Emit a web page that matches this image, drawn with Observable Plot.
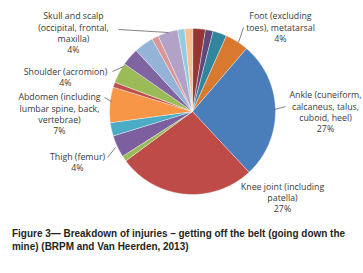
<!DOCTYPE html>
<html><head><meta charset="utf-8">
<script src="https://cdn.jsdelivr.net/npm/d3@7"></script>
<script src="https://cdn.jsdelivr.net/npm/@observablehq/plot@0.6"></script>
<style>
body{margin:0;background:#fff;width:363px;height:273px;overflow:hidden;position:relative}
#chart{position:absolute;left:0;top:0}
#cap{position:absolute;left:12px;top:227px;white-space:nowrap;font-family:"Liberation Sans",Arial,sans-serif;font-weight:bold;font-size:11px;line-height:13px;color:#231f20;transform-origin:0 0}
#cap span{display:inline-block}
</style></head><body>
<div id="chart"></div>
<div id="cap"><span id="l1">Figure 3— Breakdown of injuries – getting off the belt (going down the</span><br><span>mine) (BRPM and Van Heerden, 2013)</span></div>
<script>
// ---- data (clockwise from 12 o'clock) ----
const categories = [
  "Unlabelled 1", "Unlabelled 2", "Unlabelled 3",
  "Foot (excluding toes), metatarsal",
  "Ankle (cuneiform, calcaneus, talus, cuboid, heel)",
  "Knee joint (including patella)",
  "Unlabelled 4",
  "Thigh (femur)",
  "Unlabelled 5",
  "Abdomen (including lumbar spine, back, vertebrae)",
  "Unlabelled 6",
  "Shoulder (acromion)",
  "Unlabelled 7", "Unlabelled 8", "Unlabelled 9",
  "Skull and scalp (occipital, frontal, maxilla)",
  "Unlabelled 10", "Unlabelled 11"
];
const shares = [2.5, 1.5, 2.7, 4.6, 26.8, 26.8, 1.1, 4.3, 2.6, 6.9, 1.0, 4.0, 3.4, 3.8, 1.3, 3.9, 1.4, 1.5];
const sliceColors = ["#953735", "#5f497a", "#31859c", "#d9782f", "#4a7ebb", "#be4b48", "#9bbb59", "#7d5fa0", "#4bacc6", "#f79646", "#c0504d", "#9bbb59", "#8064a2", "#95b3d7", "#d99694", "#b3a2c7", "#93cddd", "#fac090"];
const labelTexts = {
  "Foot (excluding toes), metatarsal": "Foot (excluding\ntoes), metatarsal\n4%",
  "Ankle (cuneiform, calcaneus, talus, cuboid, heel)": "Ankle (cuneiform,\ncalcaneus, talus,\ncuboid, heel)\n27%",
  "Knee joint (including patella)": "Knee joint (including\npatella)\n27%",
  "Thigh (femur)": "Thigh (femur)\n4%",
  "Abdomen (including lumbar spine, back, vertebrae)": "Abdomen (including\nlumbar spine, back,\nvertebrae)\n7%",
  "Shoulder (acromion)": "Shoulder (acromion)\n4%",
  "Skull and scalp (occipital, frontal, maxilla)": "Skull and scalp\n(occipital, frontal,\nmaxilla)\n4%"
};

// ---- layout (pixels) ----
const W = 363, H = 222;
const cx = 192, cy = 111, R = 83;
const labelPos = {
  "Foot (excluding toes), metatarsal": [280, 26.5],
  "Ankle (cuneiform, calcaneus, talus, cuboid, heel)": [325, 111],
  "Knee joint (including patella)": [282, 197],
  "Thigh (femur)": [77, 161],
  "Abdomen (including lumbar spine, back, vertebrae)": [59, 113],
  "Shoulder (acromion)": [65, 76],
  "Skull and scalp (occipital, frontal, maxilla)": [73, 32]
};
const leaders = [
  {x1: 118, y1: 29, x2: 168, y2: 32},
  {x1: 112, y1: 71, x2: 123, y2: 66},
  {x1: 104, y1: 97, x2: 111, y2: 101},
  {x1: 107, y1: 157, x2: 115, y2: 147},
  {x1: 243, y1: 27, x2: 238, y2: 42},
  {x1: 285, y1: 106, x2: 274, y2: 109}
];

const rows = categories.map((c, i) => ({key: c, value: shares[i], color: sliceColors[i]}));
const arcs = d3.pie().sort(null).value(d => d.value)(rows);
const pts = [];
for (const a of arcs) {
  pts.push({key: a.data.key, color: a.data.color, x: cx, y: cy});
  const n = Math.max(2, Math.ceil((a.endAngle - a.startAngle) / (Math.PI / 360)));
  for (let k = 0; k <= n; k++) {
    const t = a.startAngle + (a.endAngle - a.startAngle) * k / n;
    pts.push({key: a.data.key, color: a.data.color, x: cx + R * Math.sin(t), y: cy - R * Math.cos(t)});
  }
}
const labels = Object.keys(labelTexts).map(k => ({text: labelTexts[k], x: labelPos[k][0], y: labelPos[k][1]}));

const chart = Plot.plot({
  width: W, height: H,
  margin: 0,
  x: {domain: [0, W], range: [0, W], axis: null},
  y: {domain: [0, H], range: [0, H], axis: null},
  color: {type: "identity"},
  style: {background: "#fff", overflow: "visible"},
  marks: [
    Plot.line(pts, {x: "x", y: "y", z: "key", fill: "color", stroke: "#ffffff", strokeWidth: 0.6, strokeOpacity: 0.7, curve: "linear-closed"}),
    Plot.link(leaders, {x1: "x1", y1: "y1", x2: "x2", y2: "y2", stroke: "#4d4d4d", strokeWidth: 0.7}),
    Plot.text(labels, {x: "x", y: "y", text: "text", fontSize: 8.8, lineHeight: 1.26, fill: "#3a3a3a", fontFamily: "'Open Sans', sans-serif"})
  ]
});
document.getElementById("chart").appendChild(chart);

// fit caption's first line to the reference width (condensed face)
const l1 = document.getElementById("l1");
const w1 = l1.getBoundingClientRect().width;
document.getElementById("cap").style.transform = `scaleX(${333 / w1})`;
</script></body></html>
